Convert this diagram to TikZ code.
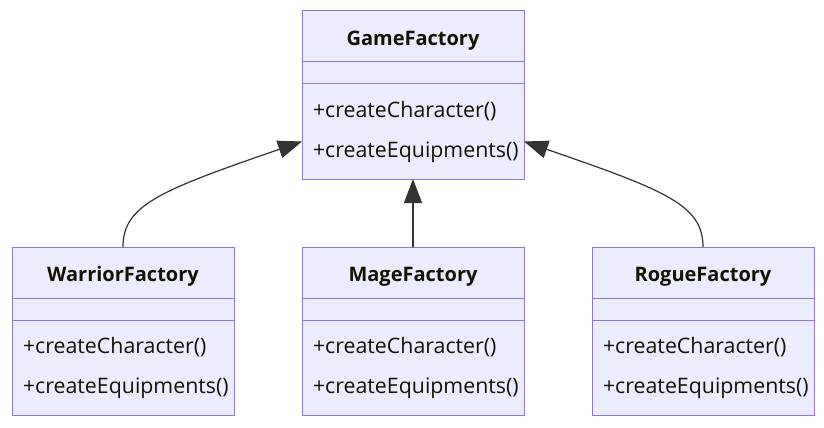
\documentclass[tikz,border=0pt]{standalone}
\usepackage{fontspec}
\setmainfont{Open Sans}
\usepackage{tikz}
\usetikzlibrary{positioning,arrows.meta,calc}
\definecolor{classfill}{HTML}{ECECFF}
\definecolor{classline}{HTML}{9370DB}
\definecolor{edgeink}  {HTML}{333333}
\definecolor{txt}      {HTML}{131300}
\tikzset{
  every node/.style={font=\fontsize{16}{19}\selectfont, text=txt},
  % --- class compartments
  part/.style  = {draw=classline, fill=classfill, line width=0.75pt,
                  minimum width=166.5pt, inner sep=0pt, outer sep=0pt},
  head/.style  = {part, minimum height=38.25pt, text height=12.8pt, text depth=0pt,
                  font=\fontsize{15}{18}\selectfont\bfseries},
  attrs/.style = {part, minimum height=16.5pt},
  meths/.style = {part, minimum height=71.25pt, text width=150pt, align=left},
  % --- edges
  inh/.style   = {-{Triangle[length=18pt,width=13.5pt]}, draw=edgeink, line width=0.9pt,
                  fill=none},
}
\begin{document}
\begin{tikzpicture}[x=0.75pt,y=-0.75pt]
  \fill[white] (0,0) rectangle (824,428);
  \useasboundingbox (0,0) rectangle (824,428);
  % GameFactory
  \node[head]  (gfh) at (413,36.5) {GameFactory};
  \node[attrs] (gfa) [below=0pt of gfh] {};
  \node[meths] (gfm) [below=0pt of gfa] {+createCharacter()\\[11pt]+createEquipments()};
  % concrete factories
  \node[head]  (wfh) at (123,272.5) {WarriorFactory};
  \node[attrs] (wfa) [below=0pt of wfh] {};
  \node[meths] (wfm) [below=0pt of wfa] {+createCharacter()\\[11pt]+createEquipments()};
  \node[head]  (mfh) at (413,272.5) {MageFactory};
  \node[attrs] (mfa) [below=0pt of mfh] {};
  \node[meths] (mfm) [below=0pt of mfa] {+createCharacter()\\[11pt]+createEquipments()};
  \node[head]  (rfh) at (703,272.5) {RogueFactory};
  \node[attrs] (rfa) [below=0pt of rfh] {};
  \node[meths] (rfm) [below=0pt of rfa] {+createCharacter()\\[11pt]+createEquipments()};
  % inheritance
  \coordinate (tl) at ([yshift=-7.5pt]gfm.west);
  \coordinate (tr) at ([yshift=-7.5pt]gfm.east);
  \draw[inh] (wfh.north) .. controls +(0,-42) and +(-142,49) .. (tl);
  \draw[inh] (mfh.north) -- (gfm.south);
  \draw[inh] (rfh.north) .. controls +(0,-42) and +(142,49) .. (tr);
\end{tikzpicture}
\end{document}
